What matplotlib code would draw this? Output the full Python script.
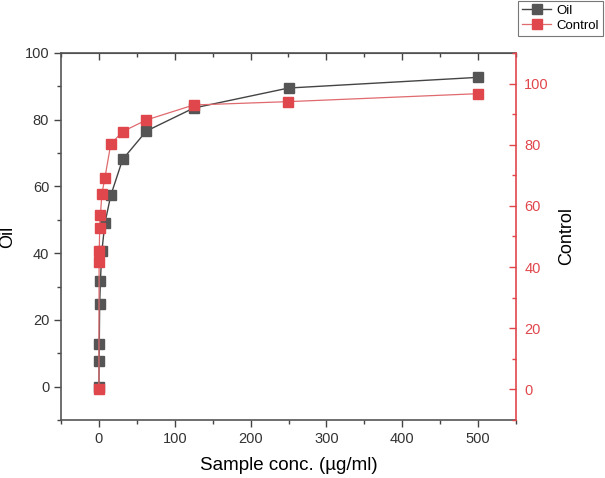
import matplotlib
matplotlib.use("Agg")
import matplotlib.pyplot as plt
from matplotlib.ticker import MultipleLocator

plt.rcParams['font.family'] = ['Liberation Sans', 'DejaVu Sans']

conc = [0, 0.244, 0.488, 0.977, 1.953, 3.906, 7.8125, 15.625, 31.25, 62.5, 125, 250, 500]
oil = [0, 7.8, 12.8, 24.8, 31.7, 40.6, 48.9, 57.3, 68.1, 76.6, 83.5, 89.5, 92.7]
control = [0, 41.6, 45.2, 52.9, 57.0, 63.9, 69.1, 80.2, 84.3, 88.1, 93.0, 94.1, 96.7]

dark = '#555555'
red = '#e0474c'
txt = '#333333'

fig = plt.figure(figsize=(6.05, 4.78), dpi=100)
ax = fig.add_axes([61/605, 1-420/478, (516-61)/605, (420-53)/478])
ax2 = ax.twinx()

l1, = ax.plot(conc, oil, '-s', color='#444444', lw=1.0, markersize=6.5,
              markerfacecolor=dark, markeredgecolor=dark, label='Oil', zorder=3)
l2, = ax2.plot(conc, control, '-s', color='#e06a6e', lw=0.9, markersize=6.5,
               markerfacecolor=red, markeredgecolor=red, label='Control', zorder=3)

ax.set_xlim(-50, 550)
ax.set_ylim(-10, 100)
ax2.set_ylim(-10, 110)

ax.xaxis.set_major_locator(MultipleLocator(100))
ax.xaxis.set_minor_locator(MultipleLocator(50))
ax.yaxis.set_major_locator(MultipleLocator(20))
ax.yaxis.set_minor_locator(MultipleLocator(10))
ax2.yaxis.set_major_locator(MultipleLocator(20))
ax2.yaxis.set_minor_locator(MultipleLocator(10))

ax.tick_params(axis='both', which='major', direction='out', length=5, width=1,
               color='#444444', labelsize=10.5, labelcolor=txt)
ax.tick_params(axis='both', which='minor', direction='out', length=3, width=1, color='#444444')
ax.tick_params(axis='y', which='both', right=False)

ax2.tick_params(axis='y', which='major', direction='in', length=5, width=1,
                color=red, labelsize=10.5, labelcolor=red, pad=6)
ax2.tick_params(axis='y', which='minor', direction='in', length=3, width=1, color=red)

top = ax.secondary_xaxis('top')
top.xaxis.set_major_locator(MultipleLocator(100))
top.xaxis.set_minor_locator(MultipleLocator(50))
top.tick_params(axis='x', which='major', direction='in', length=5, width=1,
                color='#444444', labeltop=False)
top.tick_params(axis='x', which='minor', direction='in', length=3, width=1, color='#444444')
top.spines['top'].set_color('#444444')

for s in ['left', 'bottom', 'top']:
    ax.spines[s].set_color('#555555')
    ax.spines[s].set_linewidth(1.2)
ax.spines['right'].set_visible(False)
for s in ['left', 'bottom', 'top']:
    ax2.spines[s].set_visible(False)
ax2.spines['right'].set_color(red)
ax2.spines['right'].set_linewidth(1.2)

ax.set_xlabel('Sample conc. (µg/ml)', fontsize=13.5, color='black', labelpad=8)
ax.set_ylabel('Oil', fontsize=13, color='black')
ax.yaxis.set_label_coords((16 - 61) / 455, 0.5)
ax2.set_ylabel('Control', fontsize=13, color='black', rotation=90)
ax2.yaxis.set_label_coords((558 - 61) / 455, 0.5)

leg = fig.legend(handles=[l1, l2], loc='upper right', bbox_to_anchor=(603/605, 1 - 0.5/478),
                 fontsize=9.5, frameon=True, fancybox=False, edgecolor='#555555',
                 borderpad=0.3, labelspacing=0.2, handlelength=2.2, handletextpad=0.4,
                 borderaxespad=0)
leg.get_frame().set_linewidth(0.8)

fig.savefig('out.png', dpi=100)
